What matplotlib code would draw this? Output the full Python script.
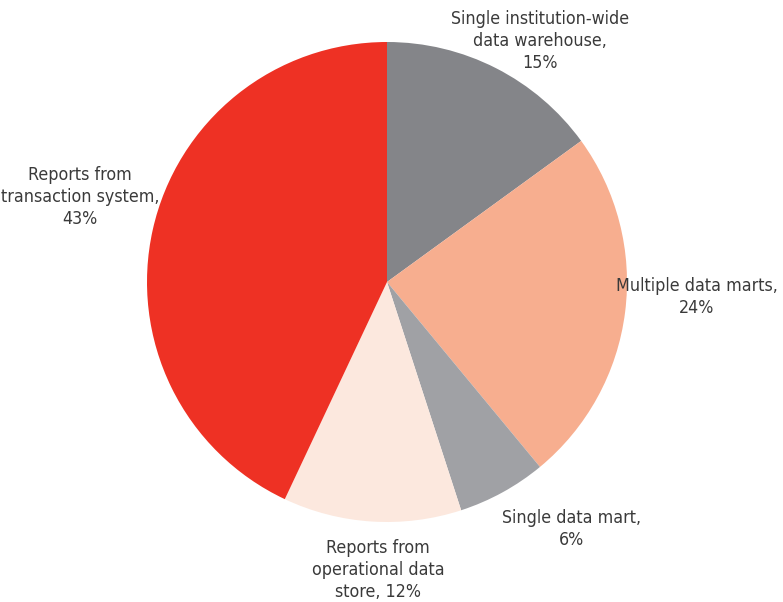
import matplotlib
matplotlib.use("Agg")
from matplotlib import pyplot as plt

# data
labels = ["Single institution-wide\ndata warehouse,\n15%",
          "Multiple data marts,\n24%",
          "Single data mart,\n6%",
          "Reports from\noperational data\nstore, 12%",
          "Reports from\ntransaction system,\n43%"]
shares = [15, 24, 6, 12, 43]
colors = ["#848589", "#F7AE8F", "#A0A1A5", "#FCE8DE", "#EE3124"]

# label centres in pixel coordinates (origin bottom-left)
label_pos = [(540, 561), (697, 305), (572, 73), (378, 32), (80, 405)]

plt.rcParams["font.family"] = ["DejaVu Sans"]

fig = plt.figure(figsize=(7.83, 6.02), dpi=100)
ax = fig.add_axes([0, 0, 1, 1])
ax.pie(shares, colors=colors, startangle=90, counterclock=False,
       radius=240, center=(387, 320), wedgeprops=dict(linewidth=0))
for text, (x, y) in zip(labels, label_pos):
    ax.text(x, y, text, ha="center", va="center", fontsize=12.8,
            color="#3a3a3a", linespacing=1.3, fontstretch="condensed")
ax.set_xlim(0, 783)
ax.set_ylim(0, 602)
ax.set_aspect("equal")
ax.axis("off")
fig.savefig("out.png", dpi=100)
